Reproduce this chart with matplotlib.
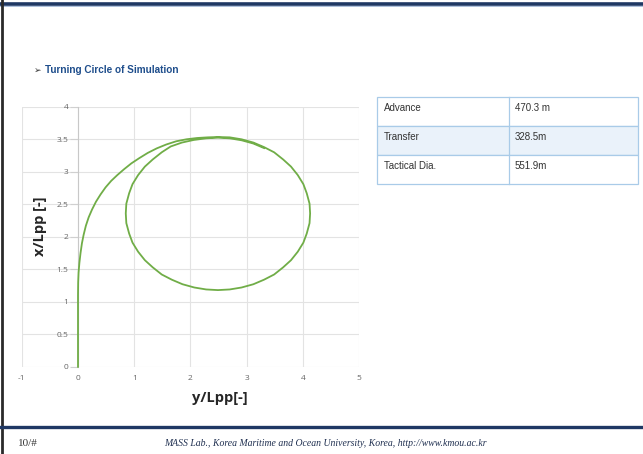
import matplotlib
matplotlib.use("Agg")
import matplotlib.pyplot as plt
from matplotlib.patches import Rectangle
from matplotlib.lines import Line2D

# Ship track of the turning-circle simulation (non-dimensional by Lpp):
# straight run-in, turn to port side of the plot, then one full loop
track_y = [0.0, 0.0, 0.0, 0.003, 0.01, 0.025, 0.045, 0.07, 0.10, 0.14, 0.19,
           0.25, 0.32, 0.40, 0.49, 0.59, 0.70, 0.82, 0.95, 1.09, 1.24, 1.40,
           1.57, 1.75, 1.93, 2.12, 2.31, 2.49,
           2.70, 2.91, 3.12, 3.31, 3.49, 3.65, 3.79, 3.91, 4.01, 4.07, 4.12,
           4.13, 4.12, 4.07, 4.01, 3.91, 3.79, 3.65, 3.49, 3.31, 3.12, 2.91,
           2.70, 2.49, 2.28, 2.07, 1.86, 1.67, 1.49, 1.33, 1.19, 1.07, 0.97,
           0.91, 0.86, 0.85, 0.86, 0.91, 0.97, 1.07, 1.19, 1.33, 1.49, 1.65,
           1.85, 2.06, 2.28, 2.49, 2.70, 2.91, 3.12, 3.31]
track_x = [0.0, 0.6, 1.1, 1.3, 1.45, 1.6, 1.75, 1.9, 2.03, 2.17, 2.30,
           2.42, 2.54, 2.65, 2.76, 2.86, 2.95, 3.04, 3.13, 3.21, 3.29, 3.36,
           3.42, 3.47, 3.50, 3.52, 3.53, 3.535,
           3.53, 3.50, 3.45, 3.38, 3.30, 3.19, 3.08, 2.95, 2.81, 2.67, 2.51,
           2.36, 2.21, 2.05, 1.91, 1.77, 1.64, 1.53, 1.42, 1.34, 1.27, 1.22,
           1.19, 1.18, 1.19, 1.22, 1.27, 1.34, 1.42, 1.53, 1.64, 1.77, 1.91,
           2.05, 2.21, 2.36, 2.51, 2.67, 2.81, 2.95, 3.08, 3.19, 3.30, 3.39,
           3.45, 3.49, 3.515, 3.525, 3.515, 3.485, 3.435, 3.365]

x_ticks = [-1, 0, 1, 2, 3, 4, 5]
y_ticks = [0, 0.5, 1, 1.5, 2, 2.5, 3, 3.5, 4]
y_tick_labels = ["0", "0.5", "1", "1.5", "2", "2.5", "3", "3.5", "4"]

table_names = ["Advance", "Transfer", "Tactical Dia."]
table_values = ["470.3 m", "328.5m", "551.9m"]

W, H = 643, 454
fig = plt.figure(figsize=(W / 100, H / 100), dpi=100)
fig.patch.set_facecolor("white")


def fx(px):
    return px / W


def fy(py):
    return 1 - py / H


# slide frame: top rule, left edge, footer rule
fig.add_artist(Line2D([0, 1], [fy(3.5), fy(3.5)], color="#1f3864", lw=2.6))
fig.add_artist(Line2D([0, 1], [fy(6.2), fy(6.2)], color="#9fb6d6", lw=0.6))
fig.add_artist(Line2D([fx(1.5), fx(1.5)], [0, 1], color="#2a2a2a", lw=2.0))
fig.add_artist(Line2D([0, 1], [fy(427), fy(427)], color="#1f3864", lw=2.4))

narrow = ["Liberation Sans Narrow", "Liberation Sans", "DejaVu Sans"]

# section heading
fig.text(fx(34), fy(70), "\u27a2", fontsize=6.5, color="#333333",
         family=["DejaVu Sans"], va="center", ha="left")
fig.text(fx(45), fy(70), "Turning Circle of Simulation", fontsize=7.2,
         fontweight="bold", color="#1f4e8c", family=narrow,
         va="center", ha="left")

# trajectory plot
ax = fig.add_axes([fx(21.8), fy(366.8), fx(359) - fx(21.8), fy(106.8) - fy(366.8)])
ax.plot(track_y, track_x, color="#70ad47", lw=1.3, solid_joinstyle="round",
        zorder=4, clip_on=False)
ax.set_xlim(-1, 5)
ax.set_ylim(0, 4)
ax.set_xticks(x_ticks)
ax.set_xticklabels([str(t) for t in x_ticks])
ax.set_yticks(y_ticks)
ax.set_yticklabels(y_tick_labels)
ax.grid(True, color="#e3e3e3", lw=0.8)
ax.set_axisbelow(True)
for s in ["top", "right", "bottom"]:
    ax.spines[s].set_visible(False)
ax.spines["left"].set_position(("data", 0))
ax.spines["left"].set_color("#c8c8c8")
ax.spines["left"].set_linewidth(0.8)
ax.spines["left"].set_zorder(1)
ax.tick_params(axis="x", length=0, pad=6, labelsize=6, labelcolor="#666666")
ax.tick_params(axis="y", length=6, width=0.8, color="#d0d0d0", pad=1,
               labelsize=6, labelcolor="#666666")
for lab in ax.get_xticklabels() + ax.get_yticklabels():
    lab.set_family(["Open Sans", "DejaVu Sans"])

fig.text(fx(40), fy(226), "x/Lpp [-]", rotation=90, fontsize=10.5,
         fontweight="bold", color="#262626", family=["Open Sans", "DejaVu Sans"],
         ha="center", va="center")
fig.text(fx(220), fy(398), "y/Lpp[-]", fontsize=10.5, fontweight="bold",
         color="#262626", family=["Open Sans", "DejaVu Sans"],
         ha="center", va="center")

# result table
tl, tr, tm = 377, 638, 509
row_tops = [97, 126, 155]
row_h = 29
row_fill = ["white", "#eaf2fa", "white"]
border = "#a9cbe8"
for i, top in enumerate(row_tops):
    fig.add_artist(Rectangle((fx(tl), fy(top + row_h)), fx(tr) - fx(tl),
                             fy(top) - fy(top + row_h), facecolor=row_fill[i],
                             edgecolor=border, lw=0.9))
    fig.text(fx(384), fy(top + 11), table_names[i], fontsize=7,
             color="#333333", family=narrow, ha="left", va="center")
    fig.text(fx(515), fy(top + 11), table_values[i], fontsize=7,
             color="#333333", family=narrow, ha="left", va="center")
fig.add_artist(Line2D([fx(tm), fx(tm)], [fy(97), fy(184)], color=border, lw=0.9))

# footer
serif = ["Liberation Serif", "DejaVu Serif"]
fig.text(fx(18), fy(443), "10/#", fontsize=8, color="#333333", family=serif,
         ha="left", va="center")
fig.text(fx(325), fy(443),
         "MASS Lab., Korea Maritime and Ocean University, Korea, http://www.kmou.ac.kr",
         fontsize=7, style="italic", color="#1f2f50", family=serif,
         ha="center", va="center")

fig.savefig("out.png", dpi=100)
